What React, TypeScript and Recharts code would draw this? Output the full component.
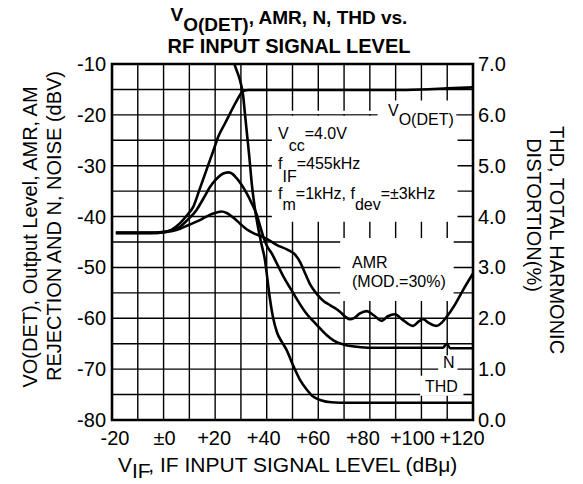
import React from "react";
import {
  LineChart,
  Line,
  XAxis,
  YAxis,
  CartesianGrid,
  ReferenceArea,
} from "recharts";

const W = 583;
const H = 484;
const FONT = "'Liberation Sans', Arial, Helvetica, sans-serif";

// axis grids: VIF in dBu, left axis in dBV, right axis THD in %
const xTicks = [-20, -10, 0, 10, 20, 30, 40, 50, 60, 70, 80, 90, 100, 110, 120];
const yTicks = [-80, -75, -70, -65, -60, -55, -50, -45, -40, -35, -30, -25, -20, -15, -10];
const thdTicks = [0, 1, 2, 3, 4, 5, 6, 7];

// VO(DET) output level (dBV)
const vodetX = [-18.5, -5, 0, 3, 6.4, 9, 11.5, 14, 17.5, 19.2, 21.2, 23.5, 25.8, 28.5, 30.9, 33, 40, 60, 90, 100, 110, 120];
const vodetY = [-43.2, -43.2, -43.1, -42.6, -41.3, -39.8, -38.1, -34.6, -29.6, -27.2, -24.3, -22, -19.7, -17.1, -15.3, -15.1, -15.1, -15.1, -15.1, -15.0, -14.8, -14.6];

// AM rejection (dBV)
const amrX = [-18.5, -5, 0, 3, 6.4, 10, 14.1, 17, 19.3, 22.5, 24.5, 27, 29.5, 32.2, 35, 38, 40, 44, 48, 51, 53, 55, 57, 59.4, 62, 64.5, 66.5, 68.4, 70.5, 72.3, 74, 76, 78.8, 81.5, 84.6, 87, 89.7, 92.5, 96.8, 99, 100.7, 102.5, 105.9, 108, 109.8, 113, 116.2, 120];
const amrY = [-43.2, -43.2, -43.1, -42.9, -42.4, -41.6, -40.7, -39.9, -39.4, -39.0, -39.3, -40.2, -41.3, -42.5, -43.3, -43.9, -44.4, -45.6, -46.5, -47.5, -49, -51.3, -53.5, -55.2, -56.6, -57.4, -58, -58.7, -59.7, -60.2, -59.9, -59.1, -58.6, -59.4, -60.5, -59.6, -59.2, -60.2, -61.5, -60.6, -60.2, -60.8, -61.5, -60.8, -59.7, -57.3, -54.4, -51.2];

// noise (dBV)
const noiseX = [-18.5, -5, 0, 3, 6.4, 9, 12.8, 15.5, 18, 20, 22, 24, 25.3, 26.7, 28.4, 30.3, 32.2, 34, 36.1, 37.5, 38.7, 40, 42, 44, 46.5, 50, 55, 59.4, 63.2, 66, 70, 75, 80, 90, 100, 108.3, 109.8, 111.2, 115, 120];
const noiseY = [-43.2, -43.2, -43.0, -42.7, -42, -40.8, -38.7, -36.4, -34.2, -32.9, -31.9, -31.4, -31.3, -31.6, -32.5, -33.8, -35.4, -37.2, -39.6, -42, -44, -45.7, -47.3, -49.3, -51.8, -54.8, -58.8, -61.3, -63.3, -64.4, -65.2, -65.6, -65.8, -65.8, -65.8, -65.8, -65.0, -65.9, -65.9, -65.9];

// THD (%), right axis
const thdX = [26.8, 27.5, 29.5, 30.8, 31.6, 32.4, 33.3, 34.2, 35.3, 36.6, 38, 39.3, 40.2, 41.2, 42.4, 44, 45.8, 47.7, 50, 52.9, 55.5, 58, 61, 65, 72, 90, 120];
const thdPct = [7.15, 7.0, 6.7, 6.4, 6.0, 5.6, 5.15, 4.65, 4.2, 3.8, 3.45, 3.15, 2.8, 2.4, 2.03, 1.72, 1.54, 1.38, 1.1, 0.79, 0.6, 0.46, 0.39, 0.35, 0.34, 0.34, 0.34];

const pts = (xs: number[], ys: number[]) => xs.map((x, i) => ({ x, y: ys[i] }));

const fmtX = (v: number) => (v === 0 ? "±0" : v > 0 ? `+${v}` : `${v}`);

const XTick = ({ x, y, payload }: any) => {
  const v = payload.value;
  if (v % 20 !== 0) return <g />;
  const dx = 3 - 0.1 * (v + 20);
  return (
    <text x={x + dx} y={y + 25} textAnchor="middle" fontSize={20} fontFamily={FONT} fill="#000">
      {fmtX(v)}
    </text>
  );
};

const LeftTick = ({ x, y, payload }: any) => {
  const v = payload.value;
  if (v % 10 !== 0) return <g />;
  return (
    <text x={x - 6} y={y} dy="0.35em" textAnchor="end" fontSize={20} fontFamily={FONT} fill="#000">
      {v}
    </text>
  );
};

const RightTick = ({ x, y, payload }: any) => (
  <text x={x + 5} y={y} dy="0.35em" textAnchor="start" fontSize={20} fontFamily={FONT} fill="#000">
    {payload.value.toFixed(1)}
  </text>
);

// white boxes behind the in-plot notes (they break the grid)
const masks = [
  { x1: 42, x2: 114, y1: -41, y2: -20.2 },
  { x1: 42, x2: 83, y1: -19.85, y2: -19.2 },
  { x1: 83, x2: 113.5, y1: -21, y2: -17.2 },
  { x1: 68.5, x2: 112.5, y1: -56.6, y2: -44.2 },
  { x1: 106.5, x2: 114, y1: -71.5, y2: -67.3 },
  { x1: 99.5, x2: 116.3, y1: -75.25, y2: -71.3 },
];

function Notes() {
  const t = { fontFamily: FONT, fill: "#000" };
  return (
    <svg
      width={W}
      height={H}
      style={{ position: "absolute", left: 0, top: 0, pointerEvents: "none" }}
    >
      <text x={289} y={24} textAnchor="middle" fontSize={19} fontWeight="bold" {...t}>
        <tspan dy={-3}>V</tspan>
        <tspan dy={10}>O(DET)</tspan>
        <tspan dy={-7}>, AMR, N, THD vs.</tspan>
      </text>
      <text x={289} y={53} textAnchor="middle" fontSize={20} fontWeight="bold" {...t}>
        RF INPUT SIGNAL LEVEL
      </text>

      <g transform="translate(37,237) rotate(-90)">
        <text x={0} y={0} textAnchor="middle" fontSize={20} {...t}>
          VO(DET), Output Level, AMR, AM
        </text>
      </g>
      <g transform="translate(61,226) rotate(-90)">
        <text x={0} y={0} textAnchor="middle" fontSize={20} {...t}>
          REJECTION AND N, NOISE (dBV)
        </text>
      </g>

      <g transform="translate(550,240) rotate(90)">
        <text x={0} y={0} textAnchor="middle" fontSize={20} {...t}>
          THD, TOTAL HARMONIC
        </text>
      </g>
      <g transform="translate(527,215) rotate(90)">
        <text x={0} y={0} textAnchor="middle" fontSize={20} {...t}>
          DISTORTION(%)
        </text>
      </g>

      <text x={118} y={472} fontSize={21} {...t}>
        V<tspan dy={6}>IF</tspan>
        <tspan dy={-6}>, IF INPUT SIGNAL LEVEL (dBμ)</tspan>
      </text>

      <g fontSize={16} {...t}>
        <text x={278} y={139}>
          V<tspan dy={12}>cc</tspan>
          <tspan dy={-12}>=4.0V</tspan>
        </text>
        <text x={278} y={169}>
          f<tspan dy={13}>IF</tspan>
          <tspan dy={-13}>=455kHz</tspan>
        </text>
        <text x={278} y={199}>
          f<tspan dy={11}>m</tspan>
          <tspan dy={-11}>=1kHz, f</tspan>
          <tspan dy={11}>dev</tspan>
          <tspan dy={-11}>=±3kHz</tspan>
        </text>
        <text x={388} y={116}>
          V<tspan dy={9}>O(DET)</tspan>
        </text>
        <text x={352} y={268}>AMR</text>
        <text x={352} y={287}>(MOD.=30%)</text>
        <text x={443} y={368}>N</text>
        <text x={425} y={392}>THD</text>
      </g>
    </svg>
  );
}

export default function App() {
  return (
    <div style={{ position: "absolute", left: 0, top: 0, width: W, height: H, background: "#fff" }}>
      <LineChart width={W} height={H} margin={{ top: 64, right: 0, bottom: 0, left: 0 }}>
        <XAxis
          dataKey="x"
          type="number"
          domain={[-20, 120]}
          ticks={xTicks}
          interval={0}
          allowDataOverflow
          height={64}
          axisLine={false}
          tickLine={false}
          tickSize={0}
          tickMargin={0}
          tick={<XTick />}
        />
        <YAxis
          yAxisId="left"
          type="number"
          domain={[-80, -10]}
          ticks={yTicks}
          interval={0}
          allowDataOverflow
          width={112}
          axisLine={false}
          tickLine={false}
          tickSize={0}
          tickMargin={0}
          tick={<LeftTick />}
        />
        <YAxis
          yAxisId="right"
          orientation="right"
          type="number"
          domain={[0, 7]}
          ticks={thdTicks}
          interval={0}
          allowDataOverflow
          width={110}
          axisLine={false}
          tickLine={false}
          tickSize={0}
          tickMargin={0}
          tick={<RightTick />}
        />
        <CartesianGrid yAxisId="left" stroke="#000" strokeWidth={1.4} strokeOpacity={1} />
        {masks.map((m, i) => (
          <ReferenceArea
            key={i}
            yAxisId="left"
            x1={m.x1}
            x2={m.x2}
            y1={m.y1}
            y2={m.y2}
            fill="#fff"
            fillOpacity={1}
            stroke="none"
          />
        ))}
        <ReferenceArea
          yAxisId="left"
          x1={-20}
          x2={120}
          y1={-80}
          y2={-10}
          fill="none"
          stroke="#000"
          strokeWidth={2.6}
        />
        <Line yAxisId="left" data={pts(vodetX, vodetY)} dataKey="y" type="monotone" stroke="#000" strokeWidth={2.6} dot={false} isAnimationActive={false} />
        <Line yAxisId="left" data={pts(amrX, amrY)} dataKey="y" type="monotone" stroke="#000" strokeWidth={2.6} dot={false} isAnimationActive={false} />
        <Line yAxisId="left" data={pts(noiseX, noiseY)} dataKey="y" type="monotone" stroke="#000" strokeWidth={2.6} dot={false} isAnimationActive={false} />
        <Line yAxisId="right" data={pts(thdX, thdPct)} dataKey="y" type="monotone" stroke="#000" strokeWidth={2.6} dot={false} isAnimationActive={false} />
      </LineChart>
      <Notes />
    </div>
  );
}
